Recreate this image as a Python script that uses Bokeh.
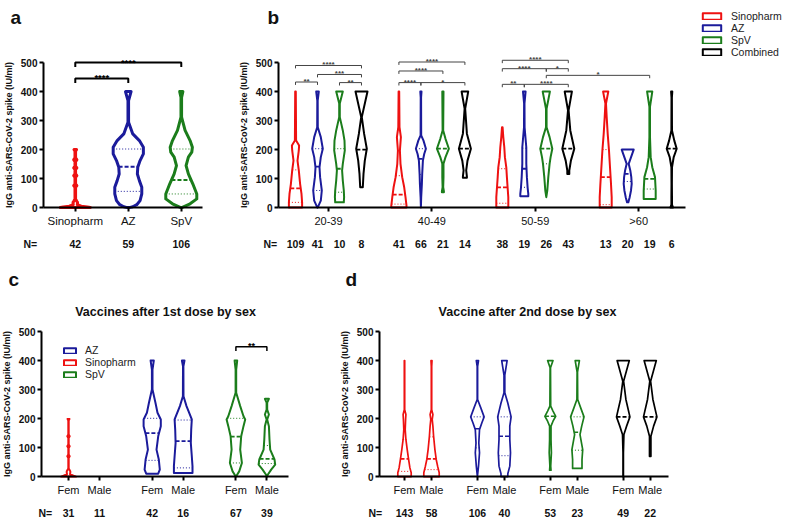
import numpy as np
from bokeh.plotting import figure
from bokeh.models import Label, Legend, LegendItem, FixedTicker, Range1d
from bokeh.layouts import row, column
from bokeh.embed import file_html
from bokeh.resources import INLINE
from bokeh.core.properties import value

RED = "#ee1111"
BLUE = "#1b1b9b"
GREEN = "#1b7d1b"
BLACK = "#000000"
FONT = "Liberation Sans"
YLABEL = "IgG anti-SARS-CoV-2 spike (IU/ml)"

# ---------------- Panel a data ----------------
a_labels = ["Sinopharm", "AZ", "SpV"]
a_n = [42, 59, 106]
a_sino_y = [0, 2, 5, 10, 15, 18, 22, 30, 70, 76, 82, 104, 110, 116, 131, 137, 143, 159, 165, 171, 194, 200]
a_sino_w = [15, 12, 6, 2, 2.2, 2.2, 1.5, 0.3, 0.3, 1.6, 0.3, 0.3, 1.6, 0.3, 0.3, 1.6, 0.3, 0.3, 1.6, 0.3, 0.3, 1.3]
a_az_y = [0, 3, 10, 24, 47, 70, 93, 116, 139, 162, 185, 208, 231, 254, 294, 369, 400]
a_az_w = [1, 4.5, 8.5, 11.8, 13.5, 13.5, 11.1, 9.1, 9.5, 11.8, 15.1, 15.1, 11.1, 4.5, 0.3, 0.3, 2.8]
a_az_med, a_az_qs = 141, [56, 202]
a_spv_y = [0, 13, 30, 47, 82, 116, 145, 174, 191, 208, 231, 266, 312, 380, 400]
a_spv_w = [0.5, 8.8, 15.5, 15.5, 11.5, 7.1, 4.8, 7.1, 10.5, 11.1, 8.8, 3.8, 0.3, 0.3, 1.6]
a_spv_med, a_spv_qs = 95, [47, 202]
a_br_from = [0, 0]
a_br_to = [1, 2]
a_br_y = [445, 500]
a_br_txt = ["****", "****"]

# ---------------- Panel b data ----------------
b_groups = ["20-39", "40-49", "50-59", ">60"]
b_series = ["Sinopharm", "AZ", "SpV", "Combined"]
b_n_2039 = [109, 41, 10, 8]
b_n_4049 = [41, 66, 21, 14]
b_n_5059 = [38, 19, 26, 43]
b_n_60 = [13, 20, 19, 6]

b_y_2039 = [[0, 3, 18, 47, 82, 128, 162, 197, 214, 231, 400],
            [0, 3, 24, 59, 105, 139, 174, 203, 243, 277, 369, 400],
            [18, 36, 59, 93, 128, 151, 197, 231, 266, 312, 359, 400],
            [70, 116, 162, 203, 255, 312, 400]]
b_w_2039 = [[6.6, 6.6, 6.6, 6.0, 4.6, 3.3, 2.0, 3.3, 3.6, 0.6, 0.3],
            [0, 0.6, 3.3, 4.3, 2.6, 2.0, 3.3, 5.3, 3.3, 0.3, 0.2, 1.3],
            [4.3, 4.6, 4.3, 3.3, 2.6, 3.3, 5.3, 5.0, 3.3, 0.3, 0.3, 3.3],
            [1.3, 2.0, 3.3, 5.3, 2.6, 0.3, 6.0]]
b_med_2039 = [66, 141, 134, 200]
b_qs_2039 = [[18, 130], [59, 203], [53, 203], []]

b_y_4049 = [[0, 7, 36, 70, 105, 151, 197, 243, 277, 400],
            [0, 36, 82, 116, 162, 185, 203, 231, 249, 380, 400],
            [53, 56, 70, 105, 151, 174, 203, 237, 266, 400],
            [103, 107, 128, 162, 203, 255, 341, 400]]
b_w_4049 = [[7.6, 7.6, 6.6, 5.3, 3.3, 1.6, 1.0, 2.0, 0.6, 0.3],
            [0, 0.3, 1.0, 1.3, 2.0, 3.3, 5.0, 2.6, 0.3, 0.2, 0.6],
            [1.0, 1.0, 0.3, 0.6, 0.6, 2.6, 6.0, 2.6, 0.3, 0.6],
            [2.0, 2.0, 1.3, 2.6, 6.0, 2.0, 0.3, 3.3]]
b_med_4049 = [45, 168, 203, 203]
b_qs_4049 = [[12, 110], [114, 203], [], []]

b_y_5059 = [[0, 13, 36, 70, 105, 139, 174, 208, 243, 277],
            [39, 47, 70, 105, 151, 208, 277, 359, 400],
            [36, 59, 105, 151, 174, 203, 243, 277, 341, 400],
            [116, 128, 162, 203, 266, 335, 400]]
b_w_5059 = [[6.0, 6.0, 6.0, 5.3, 4.6, 4.0, 2.6, 2.0, 1.0, 0.3],
            [4.0, 4.0, 3.3, 2.6, 2.0, 2.0, 0.3, 0.2, 1.3],
            [0, 1.0, 2.0, 3.3, 4.3, 6.0, 3.3, 0.3, 0.3, 3.6],
            [1.0, 1.0, 2.6, 6.0, 2.0, 0.3, 3.6]]
b_med_5059 = [70, 134, 203, 203]
b_qs_5059 = [[15, 134], [70, 205], [151], []]

b_y_60 = [[0, 7, 36, 82, 139, 197, 254, 312, 359, 400],
          [18, 36, 59, 82, 105, 128, 151, 200],
          [30, 59, 105, 139, 174, 243, 347, 400],
          [0, 10, 36, 82, 139, 174, 203, 231, 266, 380, 400]]
b_w_60 = [[6.0, 6.0, 6.0, 5.3, 4.3, 3.3, 2.0, 1.0, 0.3, 2.6],
          [0.6, 2.0, 3.3, 4.0, 3.6, 2.6, 1.0, 6.0],
          [6.0, 6.0, 5.3, 2.6, 1.0, 0.3, 0.3, 2.6],
          [1.3, 0.3, 0.3, 0.2, 0.3, 2.0, 5.0, 2.6, 0.3, 0.2, 0.6]]
b_med_60 = [105, 116, 99, 203]
b_qs_60 = [[10, 200], [90], [64, 236], []]

# brackets: (group, series) -> (group, series), height, stars
b_br_from = [(0, 0), (0, 1), (0, 2), (0, 0), (1, 0), (1, 1), (1, 0), (1, 0),
             (2, 0), (2, 1), (2, 0), (2, 2), (2, 0), (2, 2)]
b_br_to = [(0, 1), (0, 3), (0, 3), (0, 3), (1, 1), (1, 3), (1, 2), (1, 3),
           (2, 1), (2, 3), (2, 2), (2, 3), (2, 3), (3, 2)]
b_br_y = [433, 459, 431, 490, 431, 431, 471, 502, 425, 425, 479, 479, 508, 456]
b_br_txt = ["**", "***", "**", "****", "****", "*", "****", "****",
            "**", "****", "****", "*", "****", "*"]

# ---------------- Panel c data ----------------
c_labels = ["Fem", "Male", "Fem", "Male", "Fem", "Male"]
c_n = [31, 11, 42, 16, 67, 39]
c_vaccine = ["Sinopharm", "Sinopharm", "AZ", "AZ", "SpV", "SpV"]
c_y = [[0, 3, 8, 14, 18, 22, 28, 64, 70, 76, 99, 105, 111, 133, 139, 145, 193, 199],
       [],
       [10, 24, 59, 93, 139, 174, 197, 220, 254, 300, 369, 400],
       [12, 36, 70, 116, 162, 197, 243, 277, 380, 400],
       [0, 3, 18, 47, 93, 139, 174, 197, 208, 243, 289, 369, 400],
       [0, 7, 24, 41, 59, 93, 128, 174, 197, 214, 231, 255, 268]]
c_w = [[7.5, 5, 1.5, 1.8, 1.8, 1.2, 0.2, 0.2, 1.2, 0.2, 0.2, 1.2, 0.2, 0.2, 1.2, 0.2, 0.2, 1.0],
       [],
       [6.0, 7.6, 6.6, 4.3, 6.0, 8.6, 8.6, 5.3, 3.3, 0.3, 0.3, 1.6],
       [9.3, 9.3, 8.6, 7.6, 8.0, 8.6, 3.3, 0.3, 0.2, 1.3],
       [0, 0.6, 3.3, 6.0, 4.3, 5.3, 7.6, 9.3, 7.6, 4.3, 0.3, 0.3, 1.3],
       [0, 1.0, 4.3, 8.3, 7.6, 3.3, 2.6, 2.0, 0.3, 2.0, 0.3, 0.3, 2.0]]
c_med = [None, None, 150, 122, 138, 61]
c_qs = [[], [], [56, 201], [30, 195], [47, 201], [45, 107]]
c_br_from = [4]
c_br_to = [5]
c_br_y = [448]
c_br_txt = ["**"]

# ---------------- Panel d data ----------------
d_labels = ["Fem", "Male"] * 4
d_n = [143, 58, 106, 40, 53, 23, 49, 22]
d_vaccine = ["Sinopharm", "Sinopharm", "AZ", "AZ", "SpV", "SpV", "Combined", "Combined"]
d_y = [[0, 13, 30, 59, 93, 128, 162, 197, 214, 231, 400],
       [0, 13, 36, 59, 93, 139, 174, 197, 214, 231, 380, 400],
       [0, 36, 82, 116, 162, 185, 206, 237, 266, 380, 400],
       [0, 10, 36, 82, 128, 174, 206, 254, 289, 350, 400],
       [22, 36, 82, 128, 174, 191, 208, 226, 243, 375, 400],
       [28, 30, 59, 93, 145, 174, 206, 237, 266, 360, 400],
       [0, 82, 145, 174, 206, 266, 329, 400],
       [70, 72, 139, 174, 206, 266, 329, 400]]
d_w = [[6.7, 6.7, 5.4, 4.1, 2.7, 1.4, 0.7, 1.1, 1.4, 0.2, 0.2],
       [7.7, 7.7, 6.1, 4.7, 3.4, 2.1, 1.4, 0.7, 1.4, 0.2, 0.2, 0.5],
       [0, 1.1, 2.1, 1.4, 2.1, 4.4, 6.7, 3.4, 0.2, 0.2, 1.1],
       [3.4, 3.4, 5.4, 6.1, 5.4, 5.4, 6.7, 3.4, 0.4, 0.4, 2.7],
       [0.7, 0.4, 1.1, 0.7, 0.7, 2.7, 5.4, 2.7, 0.4, 0.2, 2.7],
       [4.7, 4.7, 4.7, 5.4, 2.7, 4.4, 6.7, 3.4, 0.4, 0.2, 2.1],
       [0.2, 0.2, 0.7, 3.4, 6.7, 2.7, 0.4, 6.1],
       [0.7, 0.7, 0.7, 3.4, 6.7, 2.7, 0.4, 6.1]]
d_med = [61, 61, 165, 139, 208, 153, 206, 206]
d_qs = [[18, 128], [24, 137], [99, 206], [72, 206], [], [91, 206], [], []]

COLORS = {"Sinopharm": RED, "AZ": BLUE, "SpV": GREEN, "Combined": BLACK}


# ---------------- helpers ----------------
def make_fig(width, height, xr, yr, yaxis_x, xaxis_end):
    p = figure(width=width, height=height, x_range=Range1d(*xr), y_range=Range1d(*yr),
               output_backend="svg", toolbar_location=None, title=None,
               min_border=0, min_border_left=0, min_border_right=0,
               min_border_top=0, min_border_bottom=0)
    p.outline_line_color = None
    p.grid.visible = False
    p.background_fill_color = "white"
    p.border_fill_color = "white"
    p.xaxis.fixed_location = 0
    p.yaxis.fixed_location = yaxis_x
    p.xaxis.bounds = (yaxis_x, xaxis_end)
    p.yaxis.ticker = FixedTicker(ticks=[0, 100, 200, 300, 400, 500])
    p.yaxis.bounds = (0, 500)
    p.yaxis.axis_label = YLABEL
    p.yaxis.axis_label_text_font = FONT
    p.yaxis.axis_label_text_font_size = "9px"
    p.yaxis.axis_label_text_font_style = "bold"
    p.yaxis.axis_label_standoff = 4
    p.yaxis.major_label_text_font_style = "bold"
    p.yaxis.major_label_text_font_size = "10px"
    p.yaxis.major_label_standoff = 2
    p.xaxis.major_label_text_font_size = "11px"
    p.xaxis.major_label_standoff = 3
    for ax in (p.xaxis[0], p.yaxis[0]):
        ax.axis_line_width = 2
        ax.axis_line_color = "black"
        ax.major_tick_line_width = 2
        ax.major_tick_line_color = "black"
        ax.major_tick_out = 4
        ax.major_tick_in = 0
        ax.minor_tick_line_color = None
        ax.major_label_text_font = FONT
        ax.major_label_text_color = "#111111"
        ax.axis_label_text_color = "#111111"
    return p


def set_xticks(p, ticks, labels):
    ticks = [float(t) for t in ticks]
    p.xaxis.ticker = FixedTicker(ticks=ticks)
    p.xaxis.major_label_overrides = {t: l for t, l in zip(ticks, labels)}


def draw_violins(p, specs, scale, lw, mlw):
    groups, lines = {}, {}
    for x, ys, ws, color, med, qs in specs:
        if len(ys) == 0:
            continue
        ys = np.asarray(ys, float)
        hw = np.asarray(ws, float) / scale
        g = groups.setdefault(color, [[], []])
        g[0].append(list(x - hw) + list((x + hw)[::-1]))
        g[1].append(list(ys) + list(ys[::-1]))
        levels = ([(med, "med")] if med is not None else []) + [(q, "q") for q in qs]
        for lvl, kind in levels:
            w = float(np.interp(lvl, ys, hw))
            l = lines.setdefault((color, kind), [[], []])
            l[0].append([x - w, x + w])
            l[1].append([lvl, lvl])
    rends = {}
    for color, (xs, yy) in groups.items():
        rends[color] = p.patches(xs, yy, fill_color="white", line_color=color,
                                 line_width=lw, line_join="round")
    for (color, kind), (xs, yy) in lines.items():
        if kind == "med":
            p.multi_line(xs, yy, line_color=color, line_width=mlw, line_dash="4 2")
        else:
            p.multi_line(xs, yy, line_color=color, line_width=1, line_dash="1 2")
    return rends


def draw_brackets(p, x0s, x1s, ys, txts, leg, color, lw, fs):
    p.multi_line([[a, a, b, b] for a, b in zip(x0s, x1s)],
                 [[y - leg, y, y, y - leg] for y in ys],
                 line_color=color, line_width=lw)
    p.text(x=[(a + b) / 2 for a, b in zip(x0s, x1s)], y=[y + 2 for y in ys], text=txts,
           text_align="center", text_baseline="alphabetic", text_font=value(FONT),
           text_font_size=fs, text_font_style="bold", text_color=color)


def lab(p, x, y, text, size, bold=True, align="left"):
    p.add_layout(Label(x=x, y=y, text=str(text), text_font=FONT, text_font_size=size,
                       text_font_style="bold" if bold else "normal", text_align=align,
                       text_baseline="middle", text_color="#111111"))


def style_legend(leg, gw, gh):
    leg.glyph_width = gw
    leg.glyph_height = gh
    leg.label_standoff = 8
    leg.label_height = 12
    leg.spacing = 0
    leg.padding = 0
    leg.margin = 0
    leg.border_line_color = None
    leg.background_fill_alpha = 0
    leg.label_text_font = FONT
    leg.label_text_font_size = "10.5px"
    leg.label_text_color = "#222222"


# ---------------- Panel a ----------------
pa = make_fig(205, 265, (-1.411, 2.457), (-199.7, 714.1), -0.6, 2.4)
a_pos = [0, 1, 2]
set_xticks(pa, a_pos, a_labels)
pa.xaxis.major_label_text_font_size = "11.5px"
draw_violins(pa, [(a_pos[0], a_sino_y, a_sino_w, RED, None, []),
                  (a_pos[1], a_az_y, a_az_w, BLUE, a_az_med, a_az_qs),
                  (a_pos[2], a_spv_y, a_spv_w, GREEN, a_spv_med, a_spv_qs)], 53, 3, 2)
draw_brackets(pa, [a_pos[i] for i in a_br_from], [a_pos[i] for i in a_br_to], a_br_y, a_br_txt,
              15, BLACK, 2, "9.5px")
lab(pa, -1.223, 655, "a", "19px")
lab(pa, -0.977, -124, "N=", "10.5px")
for x, n in zip(a_pos, a_n):
    lab(pa, x, -124, n, "10.5px", align="center")

# ---------------- Panel b ----------------
pb = make_fig(582, 265, (-4.091, 22.364), (-199.7, 714.1), -0.773, 17.73)
GAP = 4.7
b_all_y = [b_y_2039, b_y_4049, b_y_5059, b_y_60]
b_all_w = [b_w_2039, b_w_4049, b_w_5059, b_w_60]
b_all_med = [b_med_2039, b_med_4049, b_med_5059, b_med_60]
b_all_qs = [b_qs_2039, b_qs_4049, b_qs_5059, b_qs_60]
b_all_n = [b_n_2039, b_n_4049, b_n_5059, b_n_60]


def bx(g, j):
    return g * GAP + j


set_xticks(pb, [bx(g, 1.5) for g in range(4)], b_groups)
specs = []
for g in range(4):
    for j, s in enumerate(b_series):
        specs.append((bx(g, j), b_all_y[g][j], b_all_w[g][j], COLORS[s],
                      b_all_med[g][j], b_all_qs[g][j]))
rb = draw_violins(pb, specs, 22, 2, 1.8)
draw_brackets(pb, [bx(*f) for f in b_br_from], [bx(*t) for t in b_br_to], b_br_y, b_br_txt,
              10, "#444444", 1, "8px")
lab(pb, -1.273, 655, "b", "19px")
lab(pb, -1.455, -124, "N=", "10.5px")
for g in range(4):
    for j in range(4):
        lab(pb, bx(g, j), -124, b_all_n[g][j], "10.5px", align="center")
leg_b = Legend(items=[LegendItem(label=s, renderers=[rb[COLORS[s]]]) for s in b_series],
               location=(495, 207))
style_legend(leg_b, 23, 8)
pb.add_layout(leg_b)

# ---------------- Panel c ----------------
pc = make_fig(300, 265, (-2.194, 7.484), (-185.9, 727.9), -0.871, 7.10)
c_pos = [0, 1, 2.7, 3.7, 5.4, 6.4]
set_xticks(pc, c_pos, c_labels)
rc = draw_violins(pc, [(x, y, w, COLORS[v], m, q) for x, y, w, v, m, q in
                       zip(c_pos, c_y, c_w, c_vaccine, c_med, c_qs)], 31, 2, 1.8)
draw_brackets(pc, [c_pos[i] for i in c_br_from], [c_pos[i] for i in c_br_to], c_br_y, c_br_txt,
              15, BLACK, 1.5, "9px")
lab(pc, -1.935, 680, "c", "19px")
lab(pc, 3.13, 566, "Vaccines after 1st dose by sex", "12.5px", align="center")
lab(pc, -0.968, -127, "N=", "10.5px")
for x, n in zip(c_pos, c_n):
    lab(pc, x, -127, n, "10.5px", align="center")
leg_c = Legend(items=[LegendItem(label=s, renderers=[rc[COLORS[s]]]) for s in ["AZ", "Sinopharm", "SpV"]],
               location=(62, 150))
style_legend(leg_c, 15, 7)
pc.add_layout(leg_c)

# ---------------- Panel d ----------------
pd_ = make_fig(487, 265, (-3.852, 14.185), (-185.9, 727.9), -0.926, 9.778)
d_pos = [0, 1, 2.7, 3.7, 5.4, 6.4, 8.1, 9.1]
set_xticks(pd_, d_pos, d_labels)
draw_violins(pd_, [(x, y, w, COLORS[v], m, q) for x, y, w, v, m, q in
                   zip(d_pos, d_y, d_w, d_vaccine, d_med, d_qs)], 27, 1.7, 1.6)
lab(pd_, -2.185, 680, "d", "19px")
lab(pd_, 4.556, 566, "Vaccine after 2nd dose by sex", "12.5px", align="center")
lab(pd_, -1.333, -127, "N=", "10.5px")
for x, n in zip(d_pos, d_n):
    lab(pd_, x, -127, n, "10.5px", align="center")

layout = column(row(pa, pb), row(pc, pd_))
open("out.html", "w").write(file_html(layout, INLINE))
